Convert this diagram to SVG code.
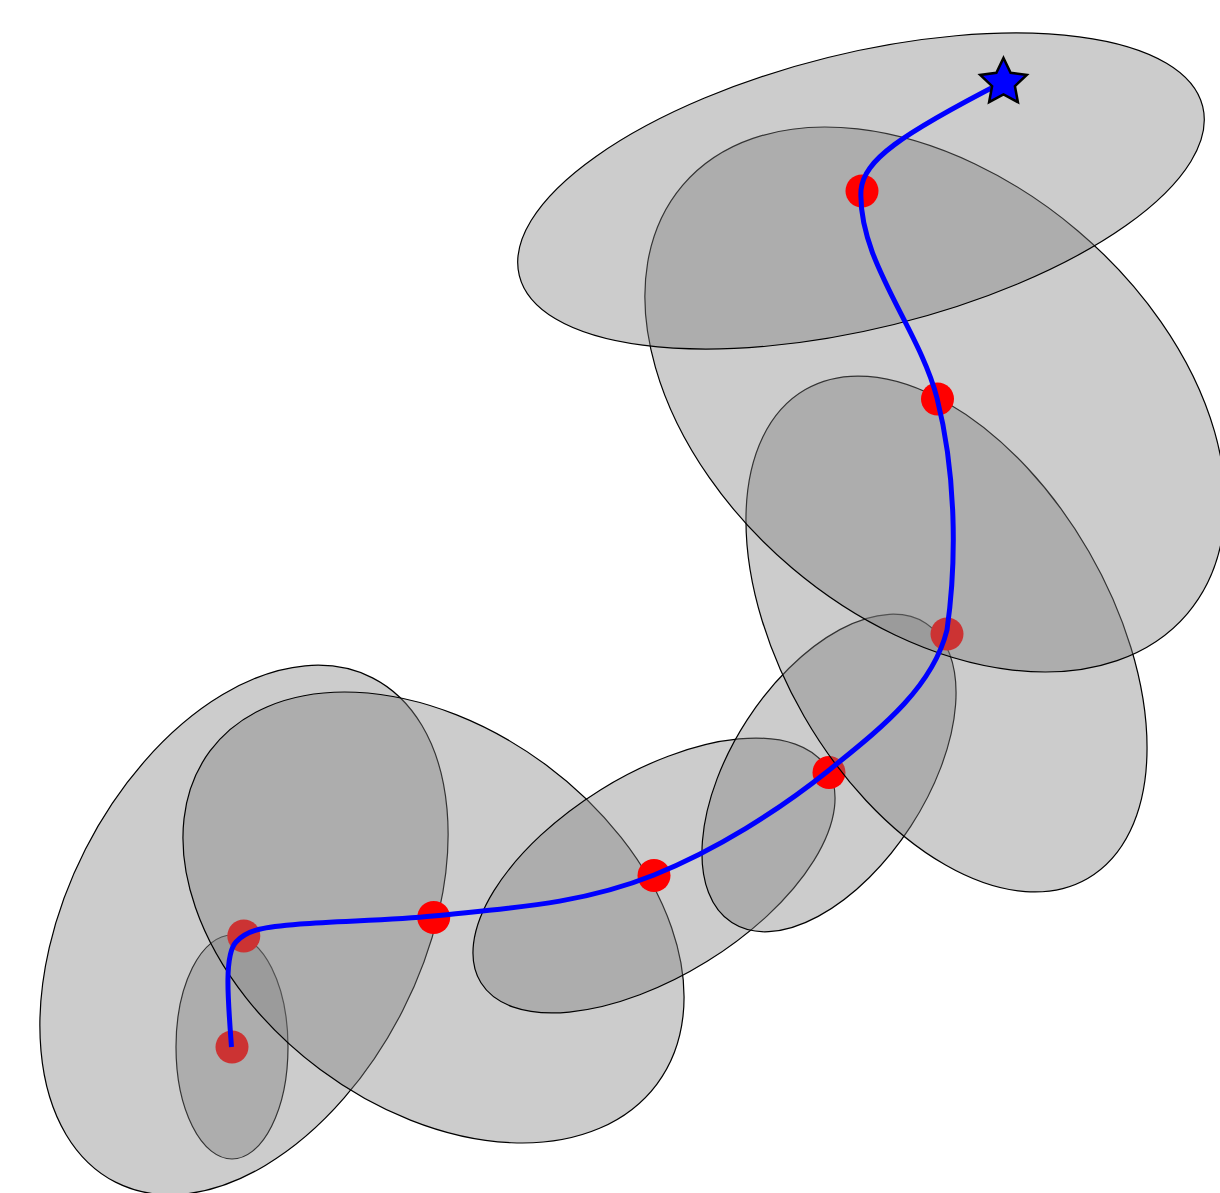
<svg xmlns="http://www.w3.org/2000/svg" width="1220" height="1193" viewBox="0 0 1220 1193">
<style>
.el{fill:#808080;fill-opacity:0.4;stroke:#000;stroke-width:1.2}
.dot{fill:#ff0000}
.path{fill:none;stroke:#0000ff;stroke-width:5;stroke-linecap:butt;stroke-linejoin:round}
.star{fill:#0000ff;stroke:#000;stroke-width:2.5;stroke-linejoin:miter}
</style>
<rect width="1220" height="1193" fill="#fff"/>
<g id="node0"><ellipse class="el" cx="232" cy="1047" rx="56" ry="112"/><circle class="dot" cx="232" cy="1047" r="16.5"/></g>
<g id="node1"><ellipse class="el" cx="244" cy="930" rx="283" ry="178" transform="rotate(-63 244 930)"/><circle class="dot" cx="243.8" cy="936" r="16.5"/></g>
<g id="node2"><ellipse class="el" cx="433.5" cy="917.5" rx="278.7" ry="189.6" transform="rotate(36.7 433.5 917.5)"/><circle class="dot" cx="433.7" cy="917.5" r="16.5"/></g>
<g id="node3"><ellipse class="el" cx="654" cy="875.5" rx="203.6" ry="101" transform="rotate(-31.8 654 875.5)"/><circle class="dot" cx="654" cy="875.5" r="16.5"/></g>
<g id="node4"><ellipse class="el" cx="829" cy="773" rx="178.4" ry="97.6" transform="rotate(-57 829 773)"/><circle class="dot" cx="829" cy="772.5" r="16.5"/></g>
<g id="node5"><ellipse class="el" cx="946.5" cy="634" rx="282.3" ry="164.5" transform="rotate(60 946.5 634)"/><circle class="dot" cx="947" cy="634" r="16.5"/></g>
<g id="node6"><ellipse class="el" cx="935" cy="399.5" rx="331" ry="221" transform="rotate(40.3 935 399.5)"/><circle class="dot" cx="937.5" cy="399" r="16.5"/></g>
<g id="node7"><ellipse class="el" cx="861" cy="191" rx="352" ry="137.5" transform="rotate(-13.9 861 191)"/><circle class="dot" cx="862" cy="191" r="16.5"/></g>
<g id="connectors">
<path class="path" d="M231.5,1047 C228,1000 224,955 236,942 C248,929 265,927 300,924 C340,921 395,920 433,916 C508,908 579,905 654,875 C716,850 778,811 828,771 C876,732 932,690 947,630 C957,560 956,473 937,398 C919,328 857.5,260 861,190 C864,160 900,135 1003,82"/>
</g>
<g id="goal"><polygon class="star" points="1003.5,58 1010.6,72.8 1026.8,74.9 1014.9,86.1 1017.9,102.2 1003.5,94.5 989.1,102.2 992.1,86.1 980.2,74.9 996.4,72.8"/></g>
</svg>
